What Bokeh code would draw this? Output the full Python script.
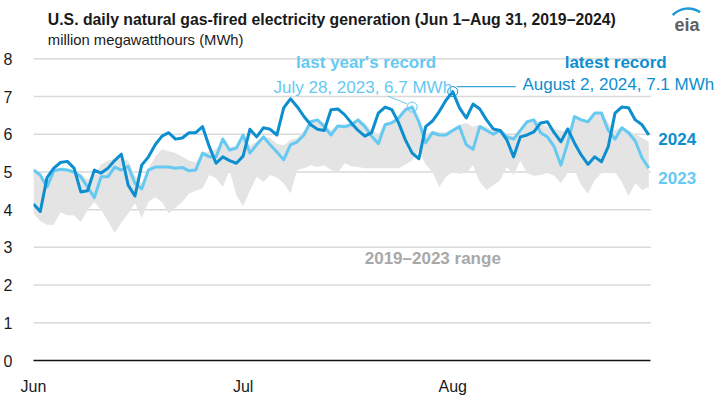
from bokeh.plotting import figure
from bokeh.layouts import column
from bokeh.models import Range1d, Label, FixedTicker
from bokeh.embed import file_html
from bokeh.resources import INLINE

# ---- data (million MWh per day, Jun 1 .. Aug 31) ----
month_ticks = [0, 31, 62]
month_labels = ["Jun", "Jul", "Aug"]
y_ticks = [0, 1, 2, 3, 4, 5, 6, 7, 8]

gen_2024 = [4.15, 3.95, 4.85, 5.10, 5.25, 5.28, 5.10, 4.47, 4.50, 5.05,
            4.97, 5.10, 5.30, 5.47, 4.65, 4.36, 5.18, 5.40, 5.72, 5.95,
            6.04, 5.87, 5.90, 6.04, 6.04, 6.20, 5.67, 5.23, 5.40, 5.30,
            5.23, 5.42, 6.13, 5.93, 6.17, 6.13, 5.98, 6.70, 6.94, 6.73,
            6.47, 6.25, 6.13, 6.10, 6.65, 6.67, 6.52, 6.30, 6.10, 5.95,
            6.04, 6.56, 6.72, 6.65, 6.30, 5.85, 5.50, 5.35, 6.20, 6.35,
            6.60, 6.90, 7.13, 6.70, 6.43, 6.80, 6.67, 6.38, 6.14, 6.10,
            5.85, 5.40, 5.93, 5.98, 6.06, 6.30, 6.33, 6.04, 5.80, 6.14,
            5.77, 5.45, 5.20, 5.40, 5.27, 5.67, 6.56, 6.72, 6.70, 6.38,
            6.25, 5.98]

gen_2023 = [5.05, 4.92, 4.60, 5.03, 5.07, 5.05, 5.00, 4.87, 4.60, 4.32,
            4.87, 4.87, 5.13, 5.05, 5.15, 4.70, 4.55, 5.05, 5.13, 5.13,
            5.13, 5.10, 5.12, 5.03, 5.05, 5.50, 5.40, 5.40, 5.87, 5.58,
            5.63, 5.98, 5.50, 5.72, 5.93, 5.72, 5.53, 5.32, 5.72, 5.80,
            5.98, 6.33, 6.38, 6.20, 5.98, 6.22, 6.20, 6.25, 6.38, 6.20,
            5.95, 5.75, 6.25, 6.30, 6.43, 6.65, 6.72, 6.33, 5.77, 6.04,
            5.98, 5.98, 6.10, 6.20, 5.72, 5.60, 6.20, 6.10, 6.00, 6.10,
            5.93, 5.87, 6.10, 6.33, 6.38, 6.04, 5.93, 5.67, 5.18, 5.77,
            6.47, 6.38, 6.33, 6.56, 6.56, 6.10, 5.87, 6.17, 6.04, 5.82,
            5.37, 5.10]

range_low = [3.90, 3.70, 3.60, 3.60, 3.93, 3.85, 3.85, 3.67, 4.00, 4.20,
             4.00, 3.70, 3.38, 3.65, 3.90, 4.17, 3.78, 4.20, 4.33, 4.20,
             3.90, 4.05, 4.20, 4.43, 4.50, 4.57, 4.92, 4.83, 4.60, 5.05,
             4.38, 4.10, 4.50, 4.87, 4.73, 4.92, 4.85, 4.70, 4.43, 5.05,
             5.10, 5.18, 5.13, 5.18, 5.05, 4.97, 5.23, 5.15, 5.13, 5.10,
             5.10, 5.10, 5.10, 5.10, 5.10, 5.20, 5.30, 5.58, 5.20, 5.00,
             4.60, 4.87, 5.00, 4.95, 4.97, 5.18, 4.73, 4.52, 4.65, 4.78,
             5.13, 4.92, 5.30, 4.97, 4.90, 4.92, 4.97, 4.90, 4.70, 4.97,
             5.05, 4.65, 4.42, 4.78, 4.97, 4.97, 5.00, 4.73, 4.36, 4.70,
             4.52, 4.60]

range_high = [5.05, 4.92, 4.75, 5.03, 5.07, 5.05, 5.00, 4.95, 4.80, 4.90,
              5.20, 5.30, 5.35, 5.35, 5.30, 4.90, 4.70, 5.10, 5.40, 5.60,
              5.55, 5.50, 5.40, 5.30, 5.25, 5.50, 5.55, 5.60, 5.87, 5.65,
              5.70, 5.98, 5.70, 5.80, 5.95, 5.90, 5.75, 5.70, 5.85, 5.90,
              6.10, 6.35, 6.40, 6.30, 6.10, 6.25, 6.25, 6.30, 6.40, 6.30,
              6.10, 6.00, 6.30, 6.35, 6.45, 6.65, 6.72, 6.40, 6.00, 6.10,
              6.05, 6.05, 6.15, 6.25, 6.30, 6.20, 6.25, 6.20, 6.10, 6.15,
              6.00, 5.95, 6.15, 6.35, 6.40, 6.30, 6.20, 6.15, 6.10, 6.05,
              6.47, 6.40, 6.35, 6.56, 6.56, 6.30, 6.10, 6.20, 6.10, 6.00,
              5.90, 5.80]

days = list(range(len(gen_2024)))
x_end = 91.3

DARK = "#0d8fcf"
LIGHT = "#66c9f2"
GREY_FILL = "#e4e4e4"
SANS = "Liberation Sans"
INK = "#1a1a1a"

HEAD_H = 52
W = 720

# ---------- header (title, subtitle, logo) ----------
h = figure(width=W, height=HEAD_H, x_range=Range1d(0, W), y_range=Range1d(0, HEAD_H),
           output_backend="svg", toolbar_location=None, x_axis_type=None, y_axis_type=None,
           min_border=0)
h.outline_line_color = None
h.grid.grid_line_color = None
h.add_layout(Label(x=15, y=HEAD_H - 19,
                   text="U.S. daily natural gas-fired electricity generation (Jun 1\u2013Aug 31, 2019\u20132024)",
                   text_font=SANS, text_font_size="15.8px", text_font_style="bold",
                   text_color=INK, text_baseline="alphabetic"))
h.add_layout(Label(x=15, y=HEAD_H - 39, text="million megawatthours (MWh)", text_font=SANS,
                   text_font_size="14.8px", text_color=INK, text_baseline="alphabetic"))
h.add_layout(Label(x=685, y=HEAD_H - 24, text="eia", text_font=SANS, text_font_size="18px",
                   text_font_style="bold", text_color="#5f6062", text_align="center",
                   text_baseline="alphabetic"))
h.arc(x=[686], y=[HEAD_H - 29], radius=22, start_angle=0.96, end_angle=2.39,
      line_color="#1e9ad6", line_width=2.5)

# ---------- main chart ----------
p = figure(width=W, height=405 - HEAD_H, x_range=Range1d(0, 101.6), y_range=Range1d(0, 8.167),
           output_backend="svg", toolbar_location=None,
           min_border_left=32, min_border_right=0, min_border_bottom=45, min_border_top=0)
p.outline_line_color = None
p.xgrid.grid_line_color = None
p.ygrid.grid_line_color = None

n_grid = len(y_ticks) - 1
p.segment(x0=[0] * n_grid, y0=y_ticks[1:], x1=[x_end] * n_grid, y1=y_ticks[1:],
          line_color="#d9d9d9", line_width=1.5)

p.varea(x=days, y1=range_low, y2=range_high, fill_color=GREY_FILL)
p.line(days, gen_2023, line_color=LIGHT, line_width=3, line_join="round")
p.line(days, gen_2024, line_color=DARK, line_width=3, line_join="round")

i23 = max(days, key=lambda i: gen_2023[i])
i24 = max(days, key=lambda i: gen_2024[i])
p.scatter([i23], [gen_2023[i23]], marker="circle", size=10, fill_color=None,
          line_color=LIGHT, line_width=1)
p.scatter([i24], [gen_2024[i24]], marker="circle", size=10, fill_color=None,
          line_color=DARK, line_width=1)
p.segment(x0=[i23 - 3.6], y0=[gen_2023[i23] + 0.29], x1=[i23 - 0.7], y1=[gen_2023[i23] + 0.08],
          line_color=LIGHT, line_width=1)
p.segment(x0=[i24 + 0.6], y0=[gen_2024[i24] + 0.13], x1=[i24 + 9.3], y1=[gen_2024[i24] + 0.13],
          line_color=DARK, line_width=1)

p.yaxis.ticker = FixedTicker(ticks=y_ticks)
p.xaxis.ticker = FixedTicker(ticks=month_ticks)
p.xaxis.major_label_overrides = {t: l for t, l in zip(month_ticks, month_labels)}
for ax in (p.xaxis, p.yaxis):
    ax.major_tick_line_color = None
    ax.minor_tick_line_color = None
    ax.major_label_text_font = SANS
    ax.major_label_text_font_size = "16px"
    ax.major_label_text_color = INK
p.yaxis.axis_line_color = None
p.yaxis.major_label_standoff = 15
p.xaxis.axis_line_color = "#111111"
p.xaxis.axis_line_width = 1.5
p.xaxis.bounds = (0, x_end)
p.xaxis.major_label_standoff = 11

def lab(x, y, text, color, size="17px", style="normal", align="left"):
    p.add_layout(Label(x=x, y=y, text=text, text_color=color, text_font=SANS,
                       text_font_size=size, text_font_style=style,
                       text_align=align, text_baseline="middle"))

lab(49.2, 7.90, "last year's record", LIGHT, style="bold", align="center")
lab(48.7, 7.25, "July 28, 2023, 6.7 MWh", LIGHT, align="center")
lab(86.1, 7.90, "latest record", DARK, style="bold", align="center")
lab(72.3, 7.31, "August 2, 2024, 7.1 MWh", DARK)
lab(92.4, 5.88, "2024", DARK, style="bold")
lab(92.4, 4.84, "2023", LIGHT, style="bold")
lab(59.4, 2.71, "2019\u20132023  range", "#a8a8a8", style="bold", align="center")

open("out.html", "w").write(file_html(column(h, p), INLINE))
